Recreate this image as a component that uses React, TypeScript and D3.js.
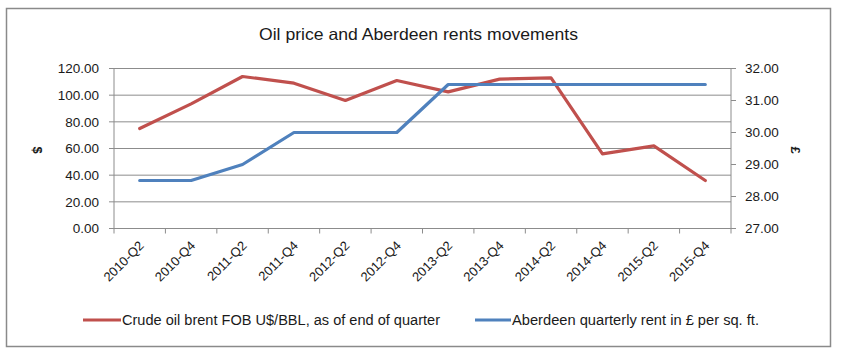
import React from "react";
import * as d3 from "d3";

const categories = ["2010-Q2","2010-Q4","2011-Q2","2011-Q4","2012-Q2","2012-Q4","2013-Q2","2013-Q4","2014-Q2","2014-Q4","2015-Q2","2015-Q4"];
const oilPrice = [75, 93.5, 114, 109, 96, 111, 102.5, 112, 113, 56, 62, 36];
const rent = [28.5, 28.5, 29, 30, 30, 30, 31.5, 31.5, 31.5, 31.5, 31.5, 31.5];
const leftTicks = [0, 20, 40, 60, 80, 100, 120];
const rightTicks = [27, 28, 29, 30, 31, 32];
const title = "Oil price and Aberdeen rents movements";
const oilLabel = "Crude oil brent FOB U$/BBL, as of end of quarter";
const rentLabel = "Aberdeen quarterly rent in £ per sq. ft.";

const W = 842, H = 356;
const plot = { left: 114, right: 731, top: 68.5, bottom: 228.5 };
const RED = "#C0504D";
const BLUE = "#4F81BD";
const GRID = "#8c8c8c";
const FONT = "'Liberation Sans', Arial, sans-serif";

export default function App() {
  const x = d3.scaleBand<string>().domain(categories).range([plot.left, plot.right]);
  const yL = d3.scaleLinear().domain([0, 120]).range([plot.bottom, plot.top]);
  const yR = d3.scaleLinear().domain([27, 32]).range([plot.bottom, plot.top]);
  const cx = (c: string) => (x(c) as number) + x.bandwidth() / 2;
  const oilLine = d3.line<number>().x((_, i) => cx(categories[i])).y((d) => yL(d))(oilPrice) as string;
  const rentLine = d3.line<number>().x((_, i) => cx(categories[i])).y((d) => yR(d))(rent) as string;
  const boundaries = d3.range(categories.length + 1).map((i) => plot.left + i * x.step());

  return (
    <svg width={W} height={H} style={{ position: "absolute", left: 0, top: 0, background: "#fff" }} fontFamily={FONT}>
      <rect x={6.5} y={8.5} width={824} height={338} fill="#fff" stroke="#8a8a8a" strokeWidth={1.5} />
      <text x={418.5} y={40} textAnchor="middle" fontSize={16.5} fill="#1a1a1a" textLength={319} lengthAdjust="spacingAndGlyphs">{title}</text>

      {leftTicks.map((t) => (
        <line key={"g" + t} x1={plot.left} x2={plot.right} y1={yL(t)} y2={yL(t)} stroke={GRID} strokeWidth={1} />
      ))}
      <line x1={plot.left} x2={plot.left} y1={plot.top} y2={plot.bottom} stroke={GRID} />
      <line x1={plot.right} x2={plot.right} y1={plot.top} y2={plot.bottom} stroke={GRID} />
      {leftTicks.map((t) => (
        <g key={"l" + t}>
          <line x1={plot.left - 5} x2={plot.left} y1={yL(t)} y2={yL(t)} stroke={GRID} />
          <text x={99} y={yL(t)} dy="0.35em" textAnchor="end" fontSize={13.5} fill="#1a1a1a">{t.toFixed(2)}</text>
        </g>
      ))}
      {rightTicks.map((t) => (
        <g key={"r" + t}>
          <line x1={plot.right} x2={plot.right + 5} y1={yR(t)} y2={yR(t)} stroke={GRID} />
          <text x={745} y={yR(t)} dy="0.35em" textAnchor="start" fontSize={13.5} fill="#1a1a1a">{t.toFixed(2)}</text>
        </g>
      ))}
      {boundaries.map((b, i) => (
        <line key={"b" + i} x1={b} x2={b} y1={plot.bottom} y2={plot.bottom + 5} stroke={GRID} />
      ))}
      {categories.map((c) => (
        <text key={"c" + c} transform={`translate(${cx(c) + 5},${plot.bottom + 18}) rotate(-45)`} textAnchor="end" fontSize={13} fill="#1a1a1a">{c}</text>
      ))}
      <text transform={`translate(38,150) rotate(90)`} textAnchor="middle" dy="0.35em" fontSize={13} fontWeight="bold" fill="#1a1a1a">$</text>
      <text transform={`translate(796,150) rotate(90)`} textAnchor="middle" dy="0.35em" fontSize={13} fontWeight="bold" fill="#1a1a1a">£</text>

      <path d={oilLine} fill="none" stroke={RED} strokeWidth={3.2} strokeLinejoin="round" strokeLinecap="round" />
      <path d={rentLine} fill="none" stroke={BLUE} strokeWidth={3.2} strokeLinejoin="round" strokeLinecap="round" />

      <line x1={83} x2={121} y1={320} y2={320} stroke={RED} strokeWidth={3.2} />
      <text x={122} y={320} dy="0.35em" fontSize={14} fill="#1a1a1a" textLength={318} lengthAdjust="spacingAndGlyphs">{oilLabel}</text>
      <line x1={475} x2={511} y1={320} y2={320} stroke={BLUE} strokeWidth={3.2} />
      <text x={512} y={320} dy="0.35em" fontSize={14} fill="#1a1a1a" textLength={247} lengthAdjust="spacingAndGlyphs">{rentLabel}</text>
    </svg>
  );
}
